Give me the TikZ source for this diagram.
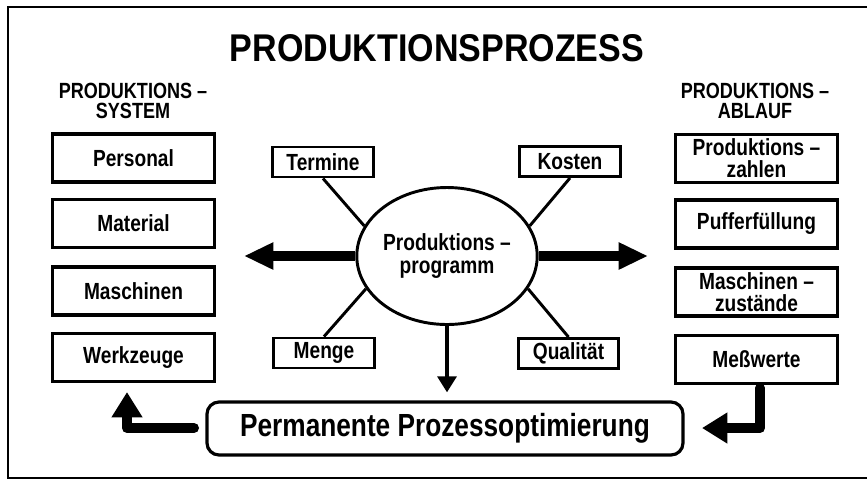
\documentclass[tikz,border=0pt]{standalone}
\usepackage{fontspec}
\setmainfont{Liberation Sans}[FakeStretch=0.88]
\newfontfamily\condfont{Liberation Sans}[FakeStretch=0.82]
\usetikzlibrary{shapes.geometric,arrows.meta,calc}
\begin{document}
\begin{tikzpicture}[x=0.75pt,y=-0.75pt,
  box/.style={draw,line width=2.4pt,minimum width=121.5pt,minimum height=36pt,inner sep=0pt,align=center,font=\condfont\fontsize{17.5}{16.5}\selectfont\bfseries},
  sbox/.style={draw,line width=2.2pt,minimum width=75.5pt,minimum height=22.5pt,inner sep=0pt,font=\condfont\fontsize{17.5}{15}\selectfont\bfseries},
  head/.style={align=center,inner sep=0pt,font=\condfont\fontsize{16.5}{15.5}\selectfont\bfseries},
  spoke/.style={line width=2.2pt},
  bigarrow/.style={line width=7.5pt,-{Triangle[length=22pt,width=19pt]}},
  cornerarrow/.style={line width=7.5pt,line cap=round,line join=round,-{Triangle[length=19pt,width=22pt]}},
  thinarrow/.style={line width=3pt,-{Triangle[length=12pt,width=14pt]}}]
\useasboundingbox (0,0) rectangle (867,480);
\fill[white] (0,0) rectangle (867,480);
\draw[line width=1.5pt] (867,7) -- (8,7) -- (8,478) -- (867,478);

\node[inner sep=0pt,font=\fontsize{29}{30}\selectfont\bfseries] (title) at (437,48) {PRODUKTIONSPROZESS};

\node[head] (hsys) at (133,101) {PRODUKTIONS –\\SYSTEM};
\node[head] (hab) at (755,101) {PRODUKTIONS –\\ABLAUF};

\node[box] (pers) at (133.5,158) {Personal};
\node[box] (mat) at (133.5,223.5) {Material};
\node[box] (masch) at (133.5,291) {Maschinen};
\node[box] (werk) at (133.5,357.5) {Werkzeuge};

\node[box] (pz) at (756.5,158.5) {Produktions –\\zahlen};
\node[box] (puf) at (756.5,224) {Pufferfüllung};
\node[box] (mz) at (756.5,292) {Maschinen –\\zustände};
\node[box] (mess) at (756.5,359.5) {Meßwerte};

\node[ellipse,draw,line width=2.2pt,minimum width=118pt,minimum height=102.75pt,inner sep=0pt,align=center,font=\condfont\fontsize{17.5}{17}\selectfont\bfseries] (prog) at (447,256) {Produktions –\\programm};

\node[sbox] (ter) at (323,162) {Termine};
\node[sbox] (kos) at (570,161.5) {Kosten};
\node[sbox] (men) at (324,353) {Menge};
\node[sbox] (qua) at (568.5,353.5) {Qualität};

\draw[spoke] (ter.south) -- (prog.160);
\draw[spoke] (kos.south) -- (prog.20);
\draw[spoke] (men.north) -- (prog.202);
\draw[spoke] (qua.north) -- (prog.338);

\coordinate (ltip) at (244,256);
\coordinate (rtip) at (648,256);
\draw[bigarrow] (prog.west) -- (ltip);
\draw[bigarrow] (prog.east) -- (rtip);

\node[draw,line width=2.4pt,rounded corners=9pt,minimum width=357pt,minimum height=39.75pt,inner sep=0pt,font=\condfont\fontsize{24}{25}\selectfont\bfseries] (perm) at (445,428.5) {Permanente Prozessoptimierung};

\draw[thinarrow] (prog.south) -- ($(prog.south |- perm.north)+(0,-8)$);

\coordinate (bls) at (194,428);
\coordinate (blt) at (127,392);
\draw[cornerarrow] (bls) -| (blt);
\coordinate (brs) at (760,388);
\coordinate (brt) at (702,428);
\draw[cornerarrow] (brs) |- (brt);
\end{tikzpicture}
\end{document}
